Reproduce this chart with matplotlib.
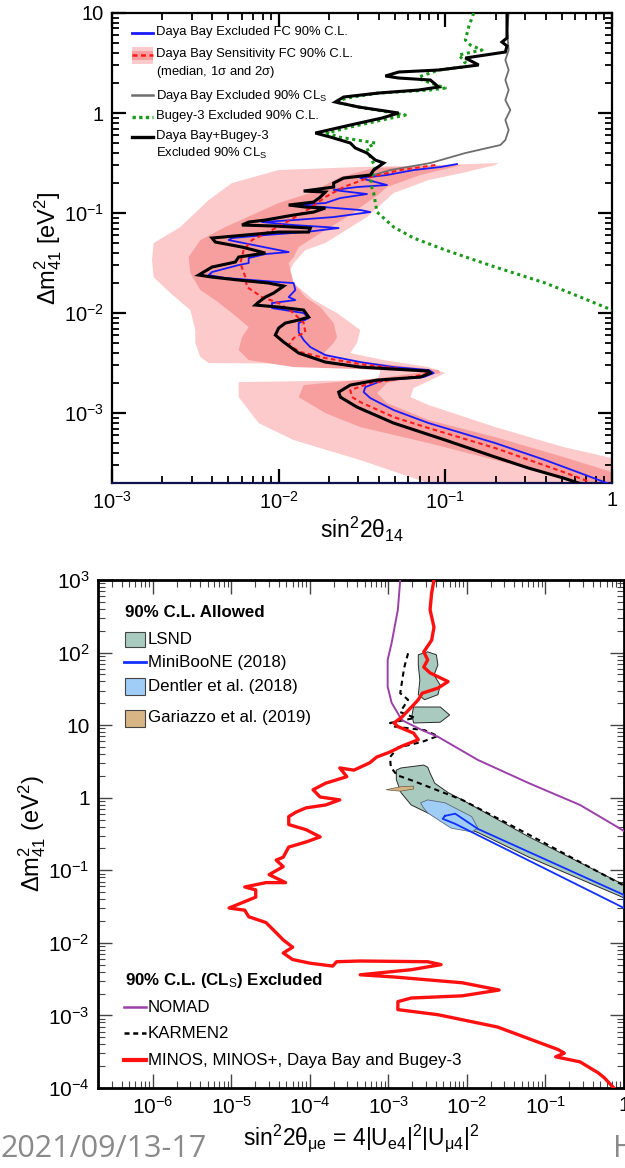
import numpy as np
import matplotlib
matplotlib.use("Agg")
import matplotlib.pyplot as plt
from matplotlib.patches import Polygon, Rectangle
from matplotlib.lines import Line2D
from matplotlib.ticker import LogLocator, FuncFormatter, NullFormatter

plt.rcParams['font.family'] = ['Liberation Sans', 'DejaVu Sans']
plt.rcParams['mathtext.fontset'] = 'custom'
plt.rcParams['mathtext.rm'] = 'Liberation Sans'
plt.rcParams['mathtext.it'] = 'Liberation Sans'
plt.rcParams['mathtext.bf'] = 'Liberation Sans:bold'

# ---------------------------------------------------------------------------
# Upper panel: Daya Bay / Bugey-3 disappearance limits.
# Each contour is a list of (log10 sin^2 2theta_14, log10 dm^2_41 [eV^2]).
# ---------------------------------------------------------------------------
db_bugey_cls = [
    (-0.63, 1.00), (-0.63, 0.75), (-0.66, 0.71), (-0.63, 0.67), (-0.64, 0.61),
    (-0.88, 0.55), (-0.80, 0.48), (-1.04, 0.43), (-1.28, 0.41), (-1.36, 0.37),
    (-1.28, 0.35), (-1.09, 0.33), (-1.04, 0.26), (-1.16, 0.23), (-1.40, 0.20),
    (-1.61, 0.16), (-1.66, 0.11), (-1.52, 0.06), (-1.28, 0.00), (-1.38, -0.05),
    (-1.57, -0.12), (-1.78, -0.20), (-1.69, -0.24), (-1.57, -0.30), (-1.54, -0.35),
    (-1.47, -0.40), (-1.42, -0.47), (-1.37, -0.50), (-1.43, -0.57), (-1.45, -0.62),
    (-1.61, -0.65), (-1.67, -0.70), (-1.67, -0.74), (-1.85, -0.78), (-1.72, -0.79),
    (-1.75, -0.84), (-1.79, -0.89), (-1.94, -0.92), (-1.84, -0.94), (-1.72, -0.95),
    (-1.79, -0.99), (-1.91, -1.02), (-2.08, -1.07), (-2.18, -1.09), (-2.22, -1.12),
    (-2.02, -1.13), (-1.81, -1.15), (-1.82, -1.19), (-2.00, -1.19), (-2.20, -1.22),
    (-2.40, -1.25), (-2.38, -1.29), (-2.22, -1.34), (-2.08, -1.40), (-2.24, -1.44),
    (-2.26, -1.49), (-2.40, -1.54), (-2.48, -1.62), (-2.40, -1.64), (-2.24, -1.67),
    (-2.06, -1.70), (-1.97, -1.73), (-2.03, -1.80), (-2.08, -1.84), (-2.12, -1.89),
    (-2.14, -1.92), (-2.00, -1.94), (-1.85, -1.97), (-1.82, -2.04), (-1.88, -2.07),
    (-1.96, -2.10), (-2.00, -2.15), (-2.02, -2.22), (-1.97, -2.29), (-1.88, -2.40),
    (-1.72, -2.49), (-1.51, -2.54), (-1.31, -2.56), (-1.10, -2.58), (-1.09, -2.60),
    (-1.15, -2.64), (-1.41, -2.67), (-1.57, -2.72), (-1.64, -2.79), (-1.63, -2.84),
    (-1.53, -2.94), (-1.31, -3.10), (-1.00, -3.27), (-0.70, -3.44), (-0.50, -3.55),
    (-0.29, -3.65), (-0.20, -3.70),
]

db_fc = [
    (-0.93, -0.51), (-1.03, -0.54), (-1.19, -0.57), (-1.35, -0.62), (-1.51, -0.65),
    (-1.35, -0.72), (-1.53, -0.74), (-1.67, -0.77), (-1.47, -0.81), (-1.63, -0.85),
    (-1.72, -0.90), (-1.91, -0.92), (-1.73, -0.94), (-1.51, -0.97), (-1.45, -0.99),
    (-1.67, -1.04), (-1.91, -1.07), (-2.10, -1.09), (-1.91, -1.12), (-1.72, -1.14),
    (-1.64, -1.15), (-1.84, -1.19), (-2.08, -1.22), (-2.28, -1.25), (-2.30, -1.27),
    (-2.06, -1.35), (-1.94, -1.39), (-2.08, -1.41), (-2.18, -1.45), (-2.18, -1.50),
    (-2.24, -1.52), (-2.40, -1.59), (-2.42, -1.62), (-2.32, -1.65), (-2.00, -1.69),
    (-1.91, -1.70), (-1.90, -1.77), (-1.94, -1.84), (-1.90, -1.87), (-2.04, -1.90),
    (-2.04, -1.95), (-1.85, -2.00), (-1.82, -2.05), (-1.88, -2.10), (-1.88, -2.19),
    (-1.85, -2.27), (-1.81, -2.34), (-1.72, -2.42), (-1.51, -2.49), (-1.31, -2.54),
    (-1.10, -2.57), (-1.07, -2.60), (-1.13, -2.64), (-1.37, -2.67), (-1.48, -2.74),
    (-1.49, -2.79), (-1.45, -2.85), (-1.31, -2.97), (-1.10, -3.10), (-0.70, -3.30),
    (-0.40, -3.47), (-0.19, -3.60), (-0.03, -3.70),
]

db_median = [
    (-1.06, -0.52), (-1.27, -0.57), (-1.45, -0.64), (-1.61, -0.74), (-1.72, -0.84),
    (-1.81, -0.95), (-1.91, -1.05), (-2.04, -1.17), (-2.16, -1.27), (-2.21, -1.37),
    (-2.23, -1.50), (-2.20, -1.64), (-2.19, -1.74), (-2.10, -1.84), (-2.00, -1.90),
    (-1.91, -2.00), (-1.85, -2.10), (-1.84, -2.19), (-1.91, -2.25), (-1.94, -2.32),
    (-1.87, -2.39), (-1.72, -2.45), (-1.51, -2.51), (-1.31, -2.55), (-1.10, -2.59),
    (-1.09, -2.60), (-1.21, -2.64), (-1.45, -2.70), (-1.57, -2.77), (-1.56, -2.84),
    (-1.51, -2.89), (-1.31, -3.04), (-1.10, -3.15), (-0.70, -3.35), (-0.29, -3.59),
    (-0.13, -3.69),
]

db_cls = [
    (-0.62, 1.00), (-0.63, 0.83), (-0.62, 0.63), (-0.64, 0.53), (-0.62, 0.43),
    (-0.64, 0.33), (-0.62, 0.23), (-0.64, 0.13), (-0.61, 0.03), (-0.64, -0.07),
    (-0.62, -0.17), (-0.64, -0.27), (-0.67, -0.32), (-0.88, -0.40), (-1.09, -0.50),
    (-1.33, -0.57), (-1.45, -0.63),
]

bugey3 = [
    (-0.83, 1.00), (-0.86, 0.86), (-0.88, 0.73), (-0.85, 0.68), (-0.78, 0.63),
    (-0.92, 0.58), (-0.88, 0.51), (-0.90, 0.46), (-1.04, 0.43), (-1.16, 0.36),
    (-1.14, 0.33), (-1.00, 0.25), (-1.09, 0.23), (-1.40, 0.20), (-1.59, 0.15),
    (-1.66, 0.11), (-1.52, 0.06), (-1.24, -0.02), (-1.38, -0.07), (-1.57, -0.14),
    (-1.71, -0.20), (-1.64, -0.24), (-1.42, -0.30), (-1.47, -0.35), (-1.45, -0.44),
    (-1.42, -0.54), (-1.44, -0.64), (-1.45, -0.70), (-1.43, -0.80), (-1.41, -0.99),
    (-1.31, -1.14), (-1.19, -1.25), (-1.00, -1.37), (-0.70, -1.54), (-0.40, -1.70),
    (-0.19, -1.84), (0.00, -1.97),
]

band_2sigma = [
    (-0.68, -0.50), (-1.04, -0.52), (-1.52, -0.54), (-2.00, -0.57), (-2.28, -0.70),
    (-2.42, -0.87), (-2.59, -1.14), (-2.75, -1.30), (-2.76, -1.47), (-2.75, -1.64),
    (-2.65, -1.80), (-2.53, -1.97), (-2.50, -2.17), (-2.50, -2.30), (-2.47, -2.44),
    (-2.42, -2.50), (-1.41, -2.51), (-1.39, -2.59), (-1.41, -2.67), (-2.24, -2.69),
    (-2.24, -2.84), (-2.12, -3.10), (-1.91, -3.27), (-1.51, -3.47), (-1.21, -3.64),
    (-1.10, -3.70), (0.00, -3.70), (0.00, -3.45), (-0.29, -3.34), (-0.70, -3.14),
    (-1.10, -2.92), (-1.21, -2.84), (-1.19, -2.75), (-1.00, -2.60), (-1.10, -2.54),
    (-1.37, -2.47), (-1.57, -2.40), (-1.53, -2.30), (-1.51, -2.17), (-1.65, -2.00),
    (-1.79, -1.87), (-1.91, -1.70), (-1.94, -1.60), (-1.91, -1.50), (-1.84, -1.37),
    (-1.72, -1.30), (-1.47, -1.04), (-1.31, -0.80), (-1.10, -0.67), (-0.90, -0.60),
    (-0.70, -0.52),
]

band_1sigma = [
    (-0.90, -0.52), (-1.43, -0.55), (-1.63, -0.64), (-1.81, -0.80), (-2.00, -0.90),
    (-2.16, -1.02), (-2.32, -1.14), (-2.47, -1.27), (-2.54, -1.44), (-2.53, -1.60),
    (-2.47, -1.77), (-2.38, -1.87), (-2.28, -2.00), (-2.18, -2.14), (-2.22, -2.24),
    (-2.24, -2.37), (-2.18, -2.47), (-1.91, -2.54), (-1.51, -2.56), (-1.14, -2.59),
    (-1.39, -2.65), (-1.85, -2.72), (-1.88, -2.84), (-1.72, -3.00), (-1.51, -3.14),
    (-1.10, -3.30), (-0.70, -3.47), (-0.40, -3.60), (-0.19, -3.70), (0.00, -3.70),
    (0.00, -3.59), (-0.29, -3.44), (-0.70, -3.24), (-1.10, -3.07), (-1.35, -2.90),
    (-1.41, -2.80), (-1.35, -2.70), (-1.19, -2.64), (-1.03, -2.60), (-1.04, -2.57),
    (-1.31, -2.52), (-1.61, -2.47), (-1.73, -2.40), (-1.67, -2.30), (-1.65, -2.24),
    (-1.67, -2.10), (-1.75, -1.94), (-1.84, -1.84), (-1.91, -1.70), (-1.94, -1.50),
    (-1.91, -1.44), (-1.88, -1.34), (-1.72, -1.17), (-1.59, -1.04), (-1.39, -0.80),
    (-1.35, -0.74), (-1.15, -0.62),
]

# ---------------------------------------------------------------------------
# Lower panel: appearance channel, (log10 sin^2 2theta_mue, log10 dm^2_41).
# ---------------------------------------------------------------------------
minos_db_bugey = [
    (-2.42, 3.00), (-2.45, 2.82), (-2.47, 2.59), (-2.42, 2.35), (-2.45, 2.17),
    (-2.55, 2.01), (-2.50, 1.90), (-2.55, 1.80), (-2.47, 1.72), (-2.24, 1.60),
    (-2.37, 1.51), (-2.57, 1.44), (-2.62, 1.35), (-2.68, 1.28), (-2.83, 1.11),
    (-2.93, 1.03), (-2.88, 0.98), (-2.68, 0.89), (-2.62, 0.80), (-2.83, 0.71),
    (-2.98, 0.63), (-3.15, 0.56), (-3.24, 0.48), (-3.44, 0.38), (-3.62, 0.41),
    (-3.53, 0.29), (-3.80, 0.20), (-3.96, 0.11), (-3.87, 0.01), (-3.62, -0.03),
    (-3.80, -0.10), (-4.05, -0.14), (-4.18, -0.20), (-4.27, -0.26), (-4.27, -0.37),
    (-4.05, -0.44), (-3.87, -0.54), (-4.05, -0.61), (-4.27, -0.68), (-4.34, -0.82),
    (-4.43, -0.86), (-4.34, -0.95), (-4.52, -1.06), (-4.31, -1.17), (-4.56, -1.17),
    (-4.83, -1.23), (-4.69, -1.27), (-4.69, -1.37), (-5.03, -1.52), (-4.83, -1.55),
    (-4.78, -1.64), (-4.56, -1.72), (-4.43, -1.86), (-4.34, -1.96), (-4.22, -2.06),
    (-4.34, -2.14), (-4.22, -2.23), (-4.00, -2.28), (-3.71, -2.32), (-3.66, -2.26),
    (-3.36, -2.25), (-2.50, -2.26), (-2.33, -2.30), (-2.71, -2.37), (-3.36, -2.44),
    (-2.93, -2.47), (-2.06, -2.55), (-1.59, -2.65), (-2.06, -2.73), (-2.71, -2.76),
    (-2.88, -2.81), (-2.88, -2.92), (-2.37, -2.99), (-1.61, -3.16), (-0.84, -3.47),
    (-0.76, -3.52), (-0.87, -3.57), (-0.56, -3.64), (-0.33, -3.79), (-0.25, -3.86),
    (-0.13, -4.00),
]

nomad = [
    (-2.85, 3.00), (-2.88, 2.59), (-2.96, 2.13), (-3.01, 1.90), (-3.01, 1.53),
    (-2.96, 1.31), (-2.83, 1.07), (-2.57, 0.93), (-2.37, 0.84), (-1.86, 0.52),
    (-1.21, 0.20), (-0.56, -0.10), (-0.09, -0.40), (0.00, -0.46),
]

karmen2 = [
    (-2.75, 1.99), (-2.80, 1.79), (-2.85, 1.44), (-2.75, 1.35), (-2.85, 1.18),
    (-2.66, 1.10), (-2.98, 1.03), (-2.92, 0.98), (-2.54, 0.93), (-2.37, 0.85),
    (-2.57, 0.77), (-2.88, 0.69), (-2.98, 0.56), (-2.97, 0.42), (-2.89, 0.31),
    (-2.68, 0.23), (-2.06, -0.03), (-1.21, -0.51), (-0.09, -1.16), (0.00, -1.21),
]

lsnd_main = [
    (-2.90, 0.25), (-2.90, 0.38), (-2.84, 0.41), (-2.55, 0.45), (-2.50, 0.42),
    (-2.47, 0.34), (-2.41, 0.20), (-2.24, 0.07), (-2.06, -0.03), (-1.21, -0.54),
    (0.00, -1.20), (0.00, -1.38), (-1.21, -0.82), (-1.86, -0.48), (-2.50, -0.21),
    (-2.71, -0.10), (-2.84, 0.07),
]
lsnd_island_high = [
    (-2.62, 1.97), (-2.50, 2.01), (-2.39, 1.97), (-2.37, 1.83), (-2.42, 1.69),
    (-2.34, 1.55), (-2.37, 1.42), (-2.54, 1.35), (-2.62, 1.42), (-2.60, 1.62),
    (-2.62, 1.83),
]
lsnd_island_low = [
    (-2.68, 1.25), (-2.34, 1.25), (-2.22, 1.14), (-2.34, 1.04), (-2.68, 1.03),
    (-2.70, 1.14),
]

dentler = [
    (-2.59, -0.07), (-2.50, -0.03), (-2.28, -0.07), (-1.94, -0.26), (-1.86, -0.42),
    (-1.94, -0.47), (-2.20, -0.42), (-2.50, -0.21), (-2.56, -0.13),
]

miniboone = [
    (-2.28, -0.25), (-2.15, -0.22), (-1.86, -0.43), (0.00, -1.34), (0.00, -1.52),
    (-2.15, -0.36), (-2.31, -0.29), (-2.28, -0.25),
]

gariazzo = [
    (-3.03, 0.11), (-2.85, 0.15), (-2.68, 0.16), (-2.68, 0.12), (-2.85, 0.09),
]

top_legend = [
    "Daya Bay Excluded FC 90% C.L.",
    "Daya Bay Sensitivity FC 90% C.L.\n(median, 1$\\sigma$ and 2$\\sigma$)",
    "Daya Bay Excluded 90% CL$_{\\rm S}$",
    "Bugey-3 Excluded 90% C.L.",
    "Daya Bay+Bugey-3\nExcluded 90% CL$_{\\rm S}$",
]
allowed_labels = ["LSND", "MiniBooNE (2018)", "Dentler et al. (2018)",
                  "Gariazzo et al. (2019)"]
excluded_labels = ["NOMAD", "KARMEN2", "MINOS, MINOS+, Daya Bay and Bugey-3"]


def xy(pairs):
    a = np.asarray(pairs, dtype=float)
    return 10.0 ** a[:, 0], 10.0 ** a[:, 1]


def dec_label(v, pos):
    e = int(round(np.log10(v)))
    if e == 0:
        return "1"
    if e == 1:
        return "10"
    return "10$^{%d}$" % e


C_BLUE = "#1a1aff"
C_RED = "#ff1a1a"
C_GREEN = "#1a9a1a"
C_GRAY = "#6e6e6e"
C_LIGHT = "#fccaca"
C_DARK = "#f79e9e"

fig = plt.figure(figsize=(6.25, 11.68), dpi=100)
W, H = 625.0, 1168.0

# ------------------------------- upper panel -------------------------------
ax1 = fig.add_axes([112 / W, 1 - 483 / H, 500 / W, 470 / H])
ax1.set_xscale("log")
ax1.set_yscale("log")
ax1.set_xlim(1e-3, 1)
ax1.set_ylim(2e-4, 10)

for pairs, col in ((band_2sigma, C_LIGHT), (band_1sigma, C_DARK)):
    x, y = xy(pairs)
    ax1.add_patch(Polygon(np.column_stack([x, y]), closed=True,
                          facecolor=col, edgecolor="none", zorder=1))

x, y = xy(db_cls)
ax1.plot(x, y, color=C_GRAY, lw=1.3, zorder=2)
x, y = xy(db_fc)
ax1.plot(x, y, color=C_BLUE, lw=1.3, zorder=3)
x, y = xy(db_median)
ax1.plot(x, y, color=C_RED, lw=1.5, ls=(0, (2.2, 1.6)), zorder=4)
x, y = xy(bugey3)
ax1.plot(x, y, color=C_GREEN, lw=2.2, ls=(0, (1, 1.2)), zorder=4)
x, y = xy(db_bugey_cls)
ax1.plot(x, y, color="black", lw=2.2, zorder=5, solid_joinstyle="miter")

ax1.xaxis.set_major_locator(LogLocator(base=10, numticks=10))
ax1.yaxis.set_major_locator(LogLocator(base=10, numticks=10))
ax1.xaxis.set_minor_locator(LogLocator(base=10, subs=np.arange(2, 10), numticks=20))
ax1.yaxis.set_minor_locator(LogLocator(base=10, subs=np.arange(2, 10), numticks=20))
ax1.xaxis.set_major_formatter(FuncFormatter(dec_label))
ax1.yaxis.set_major_formatter(FuncFormatter(dec_label))
ax1.xaxis.set_minor_formatter(NullFormatter())
ax1.yaxis.set_minor_formatter(NullFormatter())
ax1.tick_params(which="both", direction="in", top=True, right=True,
                labelsize=14.5, colors="black")
ax1.tick_params(which="major", length=10, width=1.6, pad=6)
ax1.tick_params(which="minor", length=5, width=1.3)
for s in ax1.spines.values():
    s.set_linewidth(1.6)
ax1.spines["bottom"].set_color("#10104a")
ax1.set_xlabel("sin$^2$2$\\theta_{14}$", fontsize=16.5, labelpad=1)
ax1.set_ylabel("$\\Delta$m$^2_{41}$ [eV$^2$]", fontsize=17, labelpad=0)

# upper legend
T1 = ax1.transAxes
def fx1(px): return (px - 112) / 500.0
def fy1(py): return (483 - py) / 470.0

lx0, lx1, tx = fx1(132), fx1(153), fx1(156)
ax1.add_line(Line2D([lx0, lx1], [fy1(33)] * 2, transform=T1, color=C_BLUE, lw=2))
ax1.add_patch(Rectangle((lx0, fy1(64)), lx1 - lx0, fy1(47) - fy1(64),
                        transform=T1, facecolor=C_LIGHT, edgecolor="none"))
ax1.add_patch(Rectangle((lx0, fy1(60)), lx1 - lx0, fy1(51) - fy1(60),
                        transform=T1, facecolor=C_DARK, edgecolor="none"))
ax1.add_line(Line2D([lx0, lx1], [fy1(55)] * 2, transform=T1, color=C_RED,
                    lw=1.8, ls=(0, (2, 1.4))))
ax1.add_line(Line2D([lx0, lx1], [fy1(95)] * 2, transform=T1, color=C_GRAY, lw=1.8))
ax1.add_line(Line2D([lx0, lx1], [fy1(117)] * 2, transform=T1, color=C_GREEN,
                    lw=2.4, ls=(0, (1, 1))))
ax1.add_line(Line2D([lx0, lx1], [fy1(137)] * 2, transform=T1, color="black", lw=2.4))
for label, py in zip(top_legend, (33, 55, 95, 117, 137)):
    ax1.text(tx, fy1(py - 7.5), label, transform=T1, fontsize=9.4, va="top",
             ha="left", linespacing=1.4)

# ------------------------------- lower panel -------------------------------
R2 = 624.0
ax2 = fig.add_axes([98 / W, 1 - 1088 / H, (R2 - 98) / W, 508 / H])
ax2.set_xscale("log")
ax2.set_yscale("log")
ax2.set_xlim(2e-7, 1)
ax2.set_ylim(1e-4, 1e3)

for pairs in (lsnd_main, lsnd_island_high, lsnd_island_low):
    x, y = xy(pairs)
    ax2.add_patch(Polygon(np.column_stack([x, y]), closed=True,
                          facecolor="#a9cbbf", edgecolor="#2a2a2a", lw=0.7, zorder=2))
x, y = xy(dentler)
ax2.add_patch(Polygon(np.column_stack([x, y]), closed=True,
                      facecolor="#9fcdf6", edgecolor="#5a6a7a", lw=0.6, zorder=3))
x, y = xy(gariazzo)
ax2.add_patch(Polygon(np.column_stack([x, y]), closed=True,
                      facecolor="#d8b585", edgecolor="#6a5a40", lw=0.5, zorder=3))
x, y = xy(miniboone)
ax2.plot(x, y, color="#1030ff", lw=1.3, zorder=4)
x, y = xy(karmen2)
ax2.plot(x, y, color="black", lw=1.5, ls=(0, (2.5, 2)), zorder=5)
x, y = xy(nomad)
ax2.plot(x, y, color="#9a40a8", lw=1.4, zorder=5)
x, y = xy(minos_db_bugey)
ax2.plot(x, y, color="#ff1010", lw=2.4, zorder=6)

ax2.xaxis.set_major_locator(LogLocator(base=10, numticks=12))
ax2.yaxis.set_major_locator(LogLocator(base=10, numticks=12))
ax2.xaxis.set_minor_locator(LogLocator(base=10, subs=np.arange(2, 10), numticks=40))
ax2.yaxis.set_minor_locator(LogLocator(base=10, subs=np.arange(2, 10), numticks=40))
ax2.xaxis.set_major_formatter(FuncFormatter(dec_label))
ax2.yaxis.set_major_formatter(FuncFormatter(dec_label))
ax2.xaxis.set_minor_formatter(NullFormatter())
ax2.yaxis.set_minor_formatter(NullFormatter())
ax2.tick_params(which="both", direction="in", top=True, right=True,
                labelsize=15, colors="#444444", labelcolor="black")
ax2.tick_params(which="major", length=10, width=1.0, pad=6)
ax2.tick_params(which="minor", length=5, width=0.8)
for s in ax2.spines.values():
    s.set_linewidth(2.0)
ax2.set_xlabel("sin$^2$2$\\theta_{\\mu e}$ = 4|U$_{e4}$|$^2$|U$_{\\mu 4}$|$^2$",
               fontsize=16.5, labelpad=3)
ax2.set_ylabel("$\\Delta$m$^2_{41}$ (eV$^2$)", fontsize=17, labelpad=0)

T2 = ax2.transAxes
def fx2(px): return (px - 98) / (R2 - 98)
def fy2(py): return (1088 - py) / 508.0

LEG_FS = 12.2
ax2.text(fx2(125), fy2(613), "90% C.L. Allowed", transform=T2, fontsize=LEG_FS,
         fontweight="bold", va="center", ha="left")
ax2.add_patch(Rectangle((fx2(125), fy2(647)), fx2(145) - fx2(125), fy2(632) - fy2(647),
                        transform=T2, facecolor="#a9cbbf", edgecolor="#444", lw=0.8))
ax2.add_line(Line2D([fx2(124), fx2(146)], [fy2(662)] * 2, transform=T2,
                    color="#1030ff", lw=2))
ax2.add_patch(Rectangle((fx2(125), fy2(695)), fx2(145) - fx2(125), fy2(678) - fy2(695),
                        transform=T2, facecolor="#9fcdf6", edgecolor="#444", lw=0.8))
ax2.add_patch(Rectangle((fx2(125), fy2(727)), fx2(145) - fx2(125), fy2(710) - fy2(727),
                        transform=T2, facecolor="#d8b585", edgecolor="#444", lw=0.8))
for label, py in zip(allowed_labels, (640, 662, 687, 718)):
    ax2.text(fx2(148), fy2(py), label, transform=T2, fontsize=LEG_FS,
             va="center", ha="left")

ax2.text(fx2(125), fy2(981), "90% C.L. (CL$_{\\rm S}$) Excluded", transform=T2,
         fontsize=LEG_FS, fontweight="bold", va="center", ha="left")
ax2.add_line(Line2D([fx2(124), fx2(146)], [fy2(1007)] * 2, transform=T2,
                    color="#9a40a8", lw=1.8))
ax2.add_line(Line2D([fx2(124), fx2(146)], [fy2(1033)] * 2, transform=T2,
                    color="black", lw=1.8, ls=(0, (2, 1.5))))
ax2.add_line(Line2D([fx2(124), fx2(146)], [fy2(1060)] * 2, transform=T2,
                    color="#ff1010", lw=3))
for label, py in zip(excluded_labels, (1007, 1033, 1060)):
    ax2.text(fx2(148), fy2(py), label, transform=T2, fontsize=LEG_FS,
             va="center", ha="left")

# footer
fig.text(0.0, 1 - 1149 / H, "2021/09/13-17", fontsize=22, color="#8a8a8a",
         family=["Open Sans", "DejaVu Sans"], va="center", ha="left")
fig.text(613 / W, 1 - 1149 / H, "H", fontsize=22, color="#8a8a8a",
         family=["Open Sans", "DejaVu Sans"], va="center", ha="left")

fig.savefig("out.png", dpi=100)
